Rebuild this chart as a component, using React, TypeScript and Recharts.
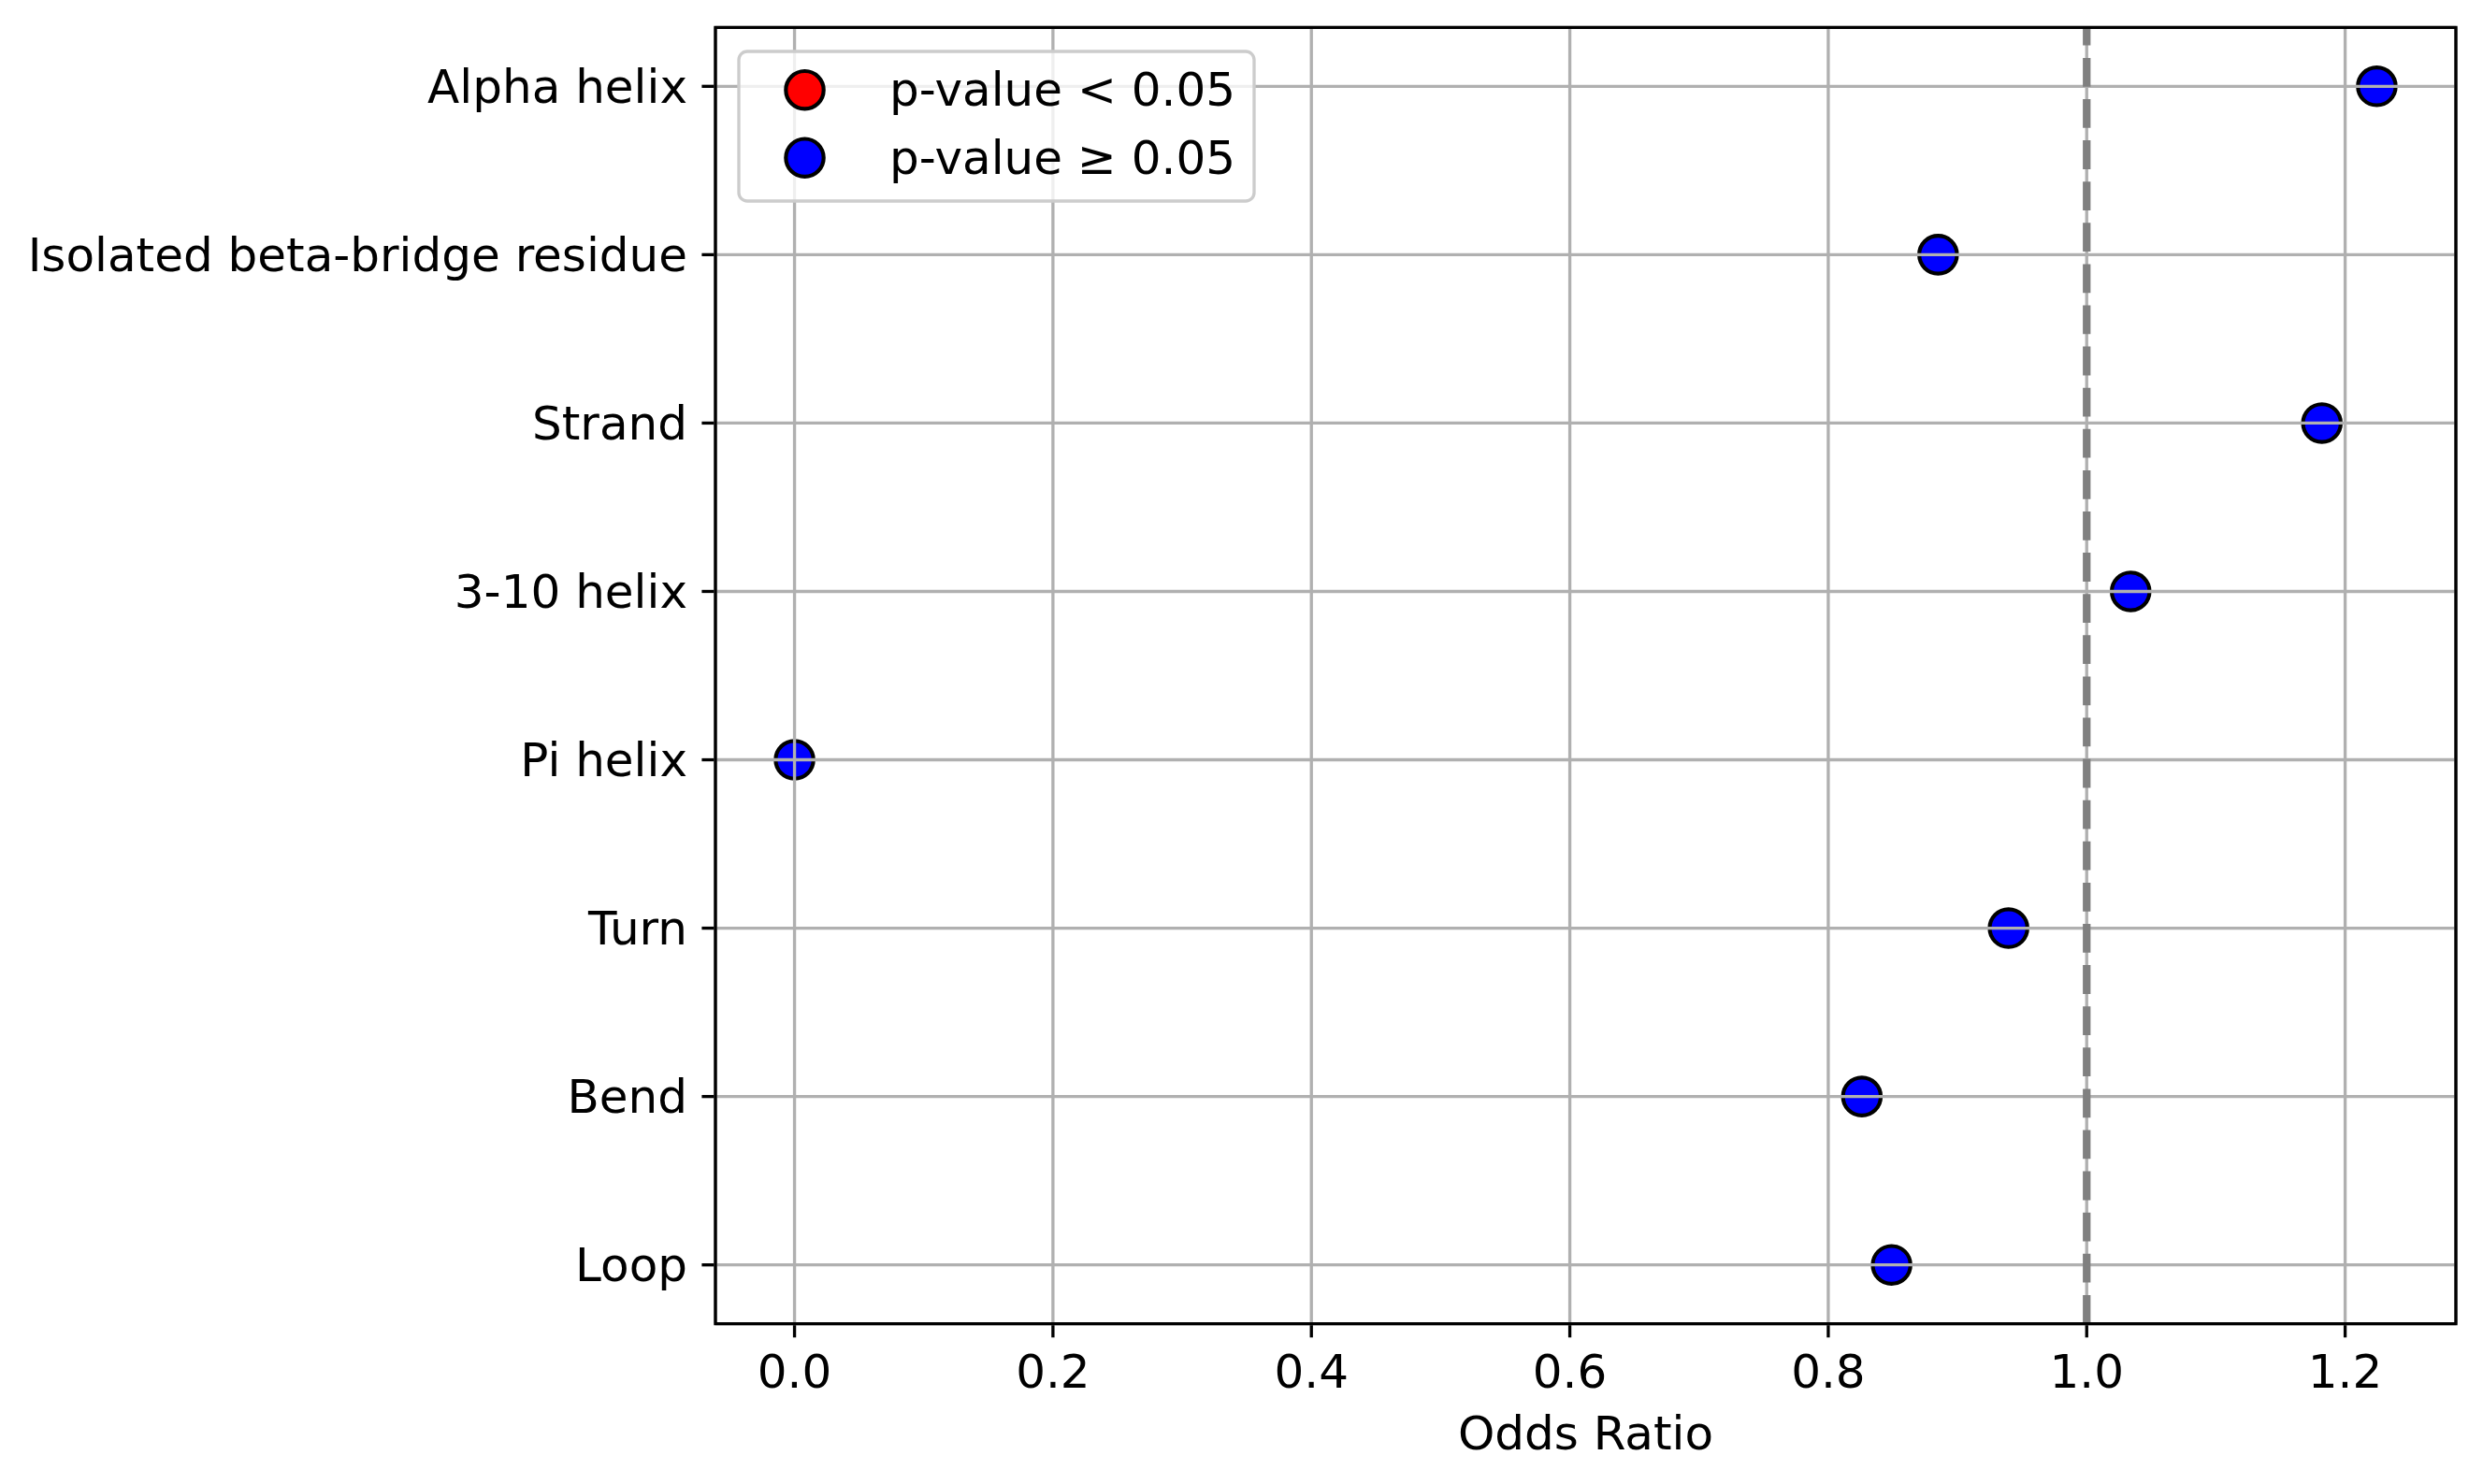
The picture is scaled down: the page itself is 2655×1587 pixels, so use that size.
import {
  CartesianGrid,
  Legend,
  ReferenceArea,
  ReferenceLine,
  Scatter,
  ScatterChart,
  XAxis,
  YAxis,
} from "recharts";

// secondary structure classes, top to bottom
const structures = [
  "Alpha helix",
  "Isolated beta-bridge residue",
  "Strand",
  "3-10 helix",
  "Pi helix",
  "Turn",
  "Bend",
  "Loop",
];
const oddsRatios = [1.2245, 0.885, 1.182, 1.034, 0.0, 0.9395, 0.826, 0.849];
const isSignificant = [false, false, false, false, false, false, false, false];
const xTicks = [0, 0.2, 0.4, 0.6, 0.8, 1.0, 1.2];
const yTicks = [0, 1, 2, 3, 4, 5, 6, 7];

const points = structures.map((name, i) => ({ name, x: oddsRatios[i], y: i }));
const sigPoints = points.filter((_, i) => isSignificant[i]);
const nonSigPoints = points.filter((_, i) => !isSignificant[i]);

const X_DOMAIN: [number, number] = [-0.0612, 1.2857];
const Y_DOMAIN: [number, number] = [-0.35, 7.35];
const FONT = "'DejaVu Sans', sans-serif";
const LW = 3.33; // 0.8pt at 300 dpi

function Dot(props: any) {
  const { cx, cy, fill } = props;
  if (cx == null || cy == null) return null;
  return <circle cx={cx} cy={cy} r={20.2} fill={fill} stroke="#000" strokeWidth={4.17} />;
}

function LegendBox({ payload }: any) {
  const items = payload || [];
  return (
    <svg width={556} height={165} style={{ display: "block", overflow: "visible" }}>
      <rect
        x={2}
        y={2}
        width={551}
        height={160}
        rx={9}
        ry={9}
        fill="#fff"
        fillOpacity={0.8}
        stroke="#cccccc"
        strokeWidth={LW}
      />
      {items.map((entry: any, i: number) => (
        <g key={entry.value}>
          <circle
            cx={72.5}
            cy={43.2 + i * 72.5}
            r={20.2}
            fill={entry.color}
            stroke="#000"
            strokeWidth={4.17}
          />
          <text
            x={163}
            y={60.2 + i * 72.5}
            fontSize={50}
            fontFamily={FONT}
            fill="#000"
          >
            {entry.value}
          </text>
        </g>
      ))}
    </svg>
  );
}

export default function App() {
  return (
    <div style={{ position: "absolute", left: 0, top: 0, background: "#fff", fontFamily: FONT }}>
      <ScatterChart
        width={2655}
        height={1587}
        margin={{ top: 29.3, right: 29, bottom: 0, left: 0 }}
      >
        <XAxis
          type="number"
          dataKey="x"
          domain={X_DOMAIN}
          allowDataOverflow
          ticks={xTicks}
          interval={0}
          tickFormatter={(v: number) => v.toFixed(1)}
          height={171.3}
          axisLine={false}
          tickLine={{ stroke: "#000", strokeWidth: LW }}
          tickSize={14.6}
          tickMargin={18.6}
          tick={{ fontSize: 50, fill: "#000", fontFamily: FONT }}
          label={{
            value: "Odds Ratio",
            position: "insideBottom",
            offset: 37,
            fontSize: 50,
            fill: "#000",
            fontFamily: FONT,
          }}
        />
        <YAxis
          type="number"
          dataKey="y"
          domain={Y_DOMAIN}
          allowDataOverflow
          reversed
          ticks={yTicks}
          interval={0}
          tickFormatter={(v: number) => structures[v]}
          width={765}
          axisLine={false}
          tickLine={{ stroke: "#000", strokeWidth: LW }}
          tickSize={14.6}
          tickMargin={15.4}
          tick={{ fontSize: 50, fill: "#000", fontFamily: FONT }}
        />
        <Scatter
          name="p-value < 0.05"
          data={sigPoints}
          fill="#ff0000"
          shape={<Dot />}
          legendType="circle"
          isAnimationActive={false}
        />
        <Scatter
          name="p-value ≥ 0.05"
          data={nonSigPoints}
          fill="#0000ff"
          shape={<Dot />}
          legendType="circle"
          isAnimationActive={false}
        />
        <CartesianGrid stroke="#b0b0b0" strokeWidth={LW} fill="none" zIndex={700} />
        <ReferenceLine
          x={1}
          stroke="#808080"
          strokeWidth={8.3}
          strokeDasharray="30.8 13.3"
          zIndex={710}
        />
        <ReferenceArea
          x1={X_DOMAIN[0]}
          x2={X_DOMAIN[1]}
          y1={Y_DOMAIN[0]}
          y2={Y_DOMAIN[1]}
          fill="none"
          fillOpacity={0}
          stroke="#000"
          strokeWidth={LW}
          ifOverflow="visible"
          zIndex={720}
        />
        <Legend
          layout="vertical"
          align="center"
          verticalAlign="middle"
          content={<LegendBox />}
          wrapperStyle={{ position: "absolute", left: 787.5, top: 52.5, width: 556, height: 165 }}
        />
      </ScatterChart>
    </div>
  );
}
